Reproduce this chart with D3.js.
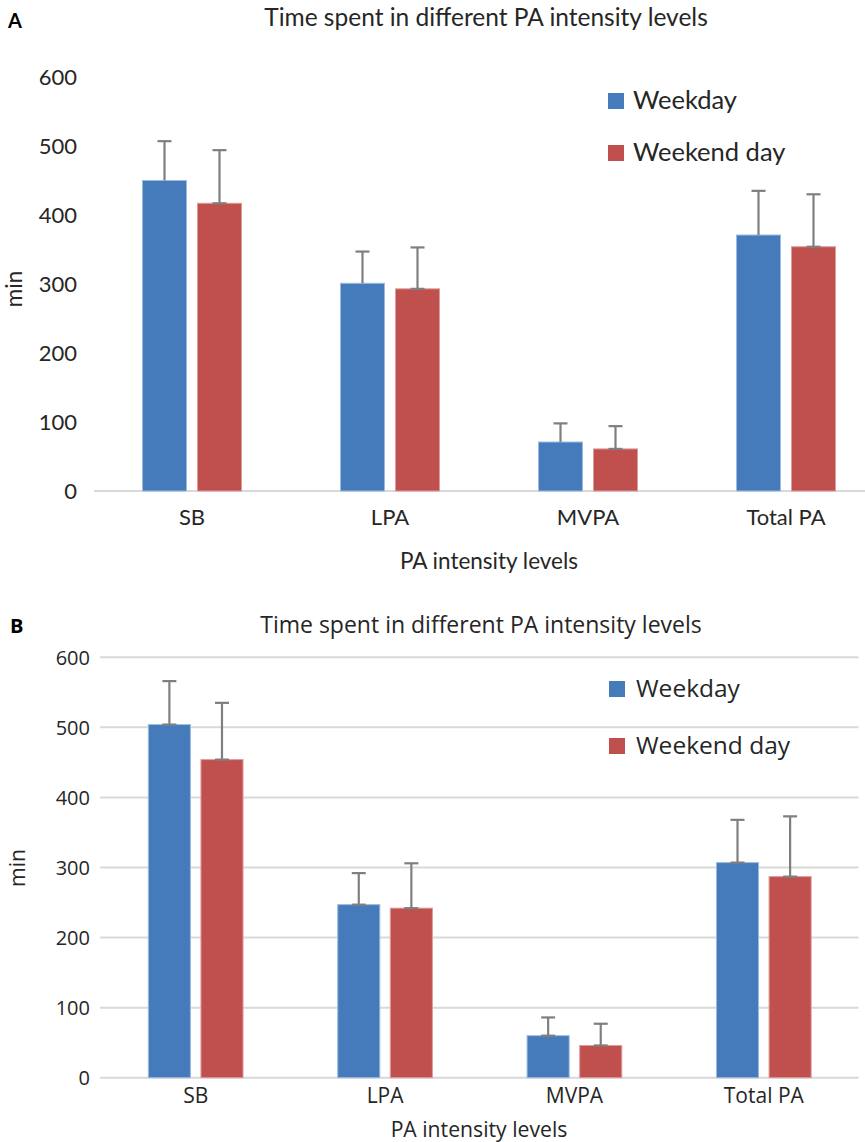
<!DOCTYPE html>
<html>
<head>
<meta charset="utf-8">
<script src="https://cdn.jsdelivr.net/npm/d3@7"></script>
<style>
  body { margin: 0; background: #fff; }
  svg { display: block; }
</style>
</head>
<body>
<div id="chart"></div>
<script>
// data (minutes)
var categories = ["SB", "LPA", "MVPA", "Total PA"];
var seriesNames = ["Weekday", "Weekend day"];
var yTicks = [0, 100, 200, 300, 400, 500, 600];

var weekdayA = [450, 301, 71, 371];
var weekdayA_sd = [57, 46, 27, 64];
var weekendA = [417, 293, 61, 354];
var weekendA_sd = [77, 60, 33, 76];

var weekdayB = [504, 247, 60, 307];
var weekdayB_sd = [62, 45, 26, 61];
var weekendB = [454, 242, 46, 287];
var weekendB_sd = [81, 64, 31, 86];

var colors = ["#457bbb", "#c0504e"];
var edges = ["#9dbbe0", "#dc9c9b"];

var svg = d3.select("#chart")
    .append("svg")
    .attr("width", 865)
    .attr("height", 1142);

function drawPanel(p) {
    var g = svg.append("g").attr("font-family", p.font).attr("fill", "#262626");

    var y = d3.scaleLinear().domain([0, 600]).range([p.y0, p.y600]);
    var x0 = d3.scaleBand()
        .domain(categories)
        .range(p.xRange)
        .paddingInner(0.5)
        .paddingOuter(0.25);
    var x1 = d3.scaleBand()
        .domain(seriesNames)
        .range([0, x0.bandwidth()])
        .paddingInner(0.2);

    // grid / baseline
    var gridVals = p.grid ? yTicks : [0];
    g.append("g")
        .selectAll("line")
        .data(gridVals)
        .join("line")
        .attr("x1", p.gridX[0])
        .attr("x2", p.gridX[1])
        .attr("y1", d => y(d))
        .attr("y2", d => y(d))
        .attr("stroke", "#d9d9d9")
        .attr("stroke-width", 2);

    // y tick labels
    g.append("g")
        .selectAll("text")
        .data(yTicks)
        .join("text")
        .attr("x", p.tickX)
        .attr("y", d => y(d))
        .attr("dy", "0.36em")
        .attr("text-anchor", "end")
        .attr("font-size", p.tickSize)
        .text(d => d);

    var rows = [];
    categories.forEach((c, i) => {
        rows.push({cat: c, s: 0, v: p.series[0][i], sd: p.sds[0][i]});
        rows.push({cat: c, s: 1, v: p.series[1][i], sd: p.sds[1][i]});
    });

    g.append("g")
        .selectAll("rect")
        .data(rows)
        .join("rect")
        .attr("x", d => x0(d.cat) + x1(seriesNames[d.s]))
        .attr("y", d => y(d.v))
        .attr("width", x1.bandwidth())
        .attr("height", d => y(0) - y(d.v))
        .attr("fill", d => colors[d.s])
        .attr("stroke", d => edges[d.s])
        .attr("stroke-width", 1);

    // error bars (upper only)
    var eb = g.append("g")
        .attr("stroke", "#7f7f7f")
        .attr("stroke-width", 2.2)
        .selectAll("g")
        .data(rows)
        .join("g")
        .attr("transform", d => "translate(" + (x0(d.cat) + x1(seriesNames[d.s]) + x1.bandwidth() / 2) + ",0)");
    eb.append("line")
        .attr("y1", d => y(d.v))
        .attr("y2", d => y(d.v + d.sd));
    eb.append("line")
        .attr("x1", -7).attr("x2", 7)
        .attr("y1", d => y(d.v + d.sd))
        .attr("y2", d => y(d.v + d.sd));
    eb.filter(d => p.lowCap[d.s])
        .append("line")
        .attr("x1", -7).attr("x2", 7)
        .attr("y1", d => y(d.v))
        .attr("y2", d => y(d.v));

    // category labels
    g.append("g")
        .selectAll("text")
        .data(categories)
        .join("text")
        .attr("x", d => x0(d) + x0.bandwidth() / 2)
        .attr("y", p.catY)
        .attr("text-anchor", "middle")
        .attr("font-size", p.catSize)
        .text(d => d);

    g.append("text")
        .attr("x", p.xTitle[0]).attr("y", p.xTitle[1])
        .attr("text-anchor", "middle")
        .attr("font-size", p.labelSize)
        .text("PA intensity levels");

    g.append("text")
        .attr("transform", "translate(" + p.yTitle[0] + "," + p.yTitle[1] + ") rotate(-90)")
        .attr("text-anchor", "middle")
        .attr("font-size", p.labelSize)
        .text("min");

    g.append("text")
        .attr("x", p.title[0]).attr("y", p.title[1])
        .attr("text-anchor", "middle")
        .attr("font-size", p.titleSize)
        .text("Time spent in different PA intensity levels");

    g.append("text")
        .attr("x", p.letter[0]).attr("y", p.letter[1])
        .attr("font-size", p.letterSize)
        .attr("font-weight", "bold")
        .attr("fill", "#000")
        .text(p.name);

    // legend
    var lg = g.append("g")
        .selectAll("g")
        .data(seriesNames)
        .join("g")
        .attr("transform", (d, i) => "translate(" + p.legend[0] + "," + (p.legend[1] + i * p.legendStep) + ")");
    lg.append("rect")
        .attr("width", 16).attr("height", 16)
        .attr("fill", (d, i) => colors[i]);
    lg.append("text")
        .attr("x", p.legendTextDx)
        .attr("y", 16)
        .attr("font-size", p.legendSize)
        .text(d => d);
}

drawPanel({
    name: "A",
    font: "Lato, 'Open Sans', sans-serif",
    series: [weekdayA, weekendA],
    sds: [weekdayA_sd, weekendA_sd],
    lowCap: [false, true],
    y0: 491, y600: 77,
    xRange: [93, 885],
    grid: false,
    gridX: [94, 865],
    tickX: 77, tickSize: 22,
    catY: 525, catSize: 22,
    xTitle: [489, 569],
    yTitle: [22, 289],
    labelSize: 22.5,
    title: [486, 26], titleSize: 24.5,
    letter: [8, 28], letterSize: 20,
    legend: [608, 93], legendStep: 52,
    legendTextDx: 25, legendSize: 25.5
});

drawPanel({
    name: "B",
    font: "'Open Sans', 'Noto Sans', sans-serif",
    series: [weekdayB, weekendB],
    sds: [weekdayB_sd, weekendB_sd],
    lowCap: [true, true],
    y0: 1077.7, y600: 657.3,
    xRange: [101, 858.5],
    grid: true,
    gridX: [100, 858.5],
    tickX: 90, tickSize: 20,
    catY: 1103, catSize: 21,
    xTitle: [479, 1137],
    yTitle: [25, 868],
    labelSize: 21.2,
    title: [481, 633], titleSize: 23,
    letter: [10, 633], letterSize: 20,
    legend: [609, 681], legendStep: 57,
    legendTextDx: 27, legendSize: 24.5
});
</script>
</body>
</html>
